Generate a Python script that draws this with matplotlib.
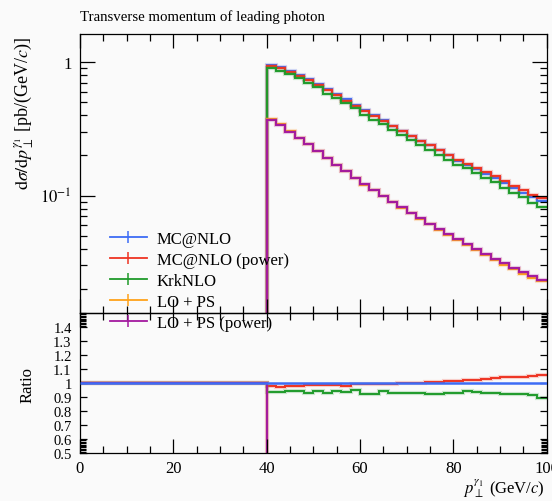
import numpy as np
import matplotlib
matplotlib.use("Agg")
import matplotlib.pyplot as plt
from matplotlib.lines import Line2D
from matplotlib.ticker import (FixedLocator, MultipleLocator, LogLocator,
                               FuncFormatter, NullFormatter)

plt.rcParams['font.family'] = ['Liberation Serif', 'DejaVu Serif']
plt.rcParams['mathtext.fontset'] = 'stix'

# Histogram binning (GeV/c): empty below 40, 2 GeV bins up to 100
pt_edges = np.arange(0, 102, 2)
pt_min_filled = 40

# Differential cross sections [pb/(GeV/c)] for the 30 filled bins 40-100
mcnlo = [0.960, 0.925, 0.866, 0.808, 0.746, 0.688, 0.627, 0.576, 0.527, 0.478,
         0.436, 0.401, 0.366, 0.334, 0.306, 0.281, 0.258, 0.238, 0.218, 0.200,
         0.183, 0.170, 0.157, 0.145, 0.1355, 0.124, 0.114, 0.105, 0.097, 0.0915]
mcnlo_power = [0.941, 0.899, 0.849, 0.793, 0.734, 0.678, 0.618, 0.569, 0.514, 0.473,
               0.432, 0.397, 0.363, 0.332, 0.305, 0.280, 0.2585, 0.239, 0.2197, 0.2024,
               0.1857, 0.1731, 0.1605, 0.1491, 0.1404, 0.1290, 0.1188, 0.1098, 0.1019, 0.0966]
krknlo = [0.900, 0.863, 0.814, 0.760, 0.695, 0.650, 0.582, 0.544, 0.495, 0.454,
          0.401, 0.3705, 0.344, 0.3093, 0.2837, 0.2610, 0.2389, 0.2187, 0.2008, 0.1862,
          0.1695, 0.1598, 0.1465, 0.1347, 0.1255, 0.1140, 0.1050, 0.0970, 0.0887, 0.0815]
lo_ps = [0.378, 0.346, 0.306, 0.272, 0.245, 0.217, 0.193, 0.171, 0.153, 0.135,
         0.121, 0.110, 0.099, 0.089, 0.0808, 0.0735, 0.0667, 0.0607, 0.0553, 0.0505,
         0.0462, 0.0425, 0.0389, 0.0356, 0.0327, 0.0302, 0.0279, 0.0259, 0.0242, 0.0227]
lo_ps_power = [0.369, 0.340, 0.302, 0.269, 0.2426, 0.215, 0.1914, 0.1706, 0.153, 0.1355,
               0.122, 0.111, 0.100, 0.090, 0.0817, 0.0745, 0.0676, 0.0616, 0.0562, 0.0516,
               0.0472, 0.0434, 0.0398, 0.0365, 0.0335, 0.031, 0.0286, 0.0266, 0.0249, 0.0234]

labels = ["MC@NLO", "MC@NLO (power)", "KrkNLO", "LO + PS", "LO + PS (power)"]
colors = ["#3d6cf5", "#ee3322", "#1f9a2a", "#ffa21a", "#a3199f"]
series = [mcnlo, mcnlo_power, krknlo, lo_ps, lo_ps_power]

bg = "#fafafa"
W, H = 552, 502
fig = plt.figure(figsize=(W / 100, H / 100), dpi=100, facecolor=bg)

L, R = 80 / W, 546.7 / W
ax = fig.add_axes([L, 1 - 314 / H, R - L, (314 - 35) / H])
axr = fig.add_axes([L, 1 - 454 / H, R - L, (454 - 314) / H])
for a in (ax, axr):
    a.set_facecolor("none")
    for s in a.spines.values():
        s.set_linewidth(0.9)

n_empty = int(np.sum(pt_edges[:-1] < pt_min_filled))
ref = np.concatenate([np.zeros(n_empty), np.asarray(mcnlo)])

# Upper panel: spectra
for vals, col in zip(series, colors):
    full = np.concatenate([np.zeros(n_empty), np.asarray(vals)])
    ax.stairs(full, pt_edges, baseline=None, color=col, lw=3.0, alpha=0.22)
    ax.stairs(full, pt_edges, baseline=None, color=col, lw=1.4)

ax.set_yscale("log")
ax.set_xlim(0, 100)
ax.set_ylim(0.01316, 1.63)

# Lower panel: ratio to MC@NLO (empty bins count as 1)
with np.errstate(divide="ignore", invalid="ignore"):
    for vals, col in list(zip(series, colors))[1:]:
        full = np.concatenate([np.zeros(n_empty), np.asarray(vals)])
        ratio = np.where(ref > 0, full / np.where(ref > 0, ref, 1), 1.0)
        axr.stairs(ratio, pt_edges, baseline=None, color=col, lw=3.0, alpha=0.22)
        axr.stairs(ratio, pt_edges, baseline=None, color=col, lw=1.4)
axr.stairs(np.ones(len(pt_edges) - 1), pt_edges, baseline=None,
           color=colors[0], lw=1.8, zorder=5)
axr.set_xlim(0, 100)
axr.set_ylim(0.5, 1.5)

# Ticks
tick_fs = 12
ax.xaxis.set_major_locator(MultipleLocator(20))
ax.xaxis.set_minor_locator(MultipleLocator(5))
axr.xaxis.set_major_locator(MultipleLocator(20))
axr.xaxis.set_minor_locator(MultipleLocator(5))
ax.yaxis.set_major_locator(LogLocator(base=10))
ax.yaxis.set_minor_locator(LogLocator(base=10, subs=np.arange(2, 10)))
ax.yaxis.set_minor_formatter(NullFormatter())


def log_label(v, pos):
    if abs(v - 1) < 1e-9:
        return "1"
    e = int(round(np.log10(v)))
    return r"$10^{%d}$" % e


ax.yaxis.set_major_formatter(FuncFormatter(log_label))

axr.yaxis.set_major_locator(FixedLocator(np.round(np.arange(0.5, 1.45, 0.1), 2)))
axr.yaxis.set_minor_locator(FixedLocator(
    list(np.round(np.arange(0.51, 0.6, 0.01), 2)) + list(np.round(np.arange(1.41, 1.5, 0.01), 2))))
axr.yaxis.set_major_formatter(FuncFormatter(lambda v, p: f"{v:g}"))

ax.tick_params(axis="x", which="both", direction="in", top=True, bottom=True,
               labelbottom=False, width=0.9)
ax.tick_params(axis="x", which="major", length=10)
ax.tick_params(axis="x", which="minor", length=5)
ax.tick_params(axis="y", which="both", direction="in", left=True, right=True,
               labelsize=tick_fs, width=0.9, pad=6)
ax.tick_params(axis="y", which="major", length=11)
ax.tick_params(axis="y", which="minor", length=5)

axr.tick_params(axis="x", which="both", direction="in", top=True, bottom=True,
                labelsize=tick_fs, width=0.9, pad=5)
axr.tick_params(axis="x", which="major", length=10)
axr.tick_params(axis="x", which="minor", length=5)
axr.tick_params(axis="y", which="both", direction="in", left=True, right=True,
                labelsize=10.5, width=0.9, pad=6)
axr.tick_params(axis="y", which="major", length=5)
axr.tick_params(axis="y", which="minor", length=4.5)

# Texts
fig.text(80 / W, 1 - 20.5 / H, "Transverse momentum of leading photon",
         fontsize=10.7, ha="left", va="baseline")
fig.text(24 / W, 1 - 37 / H,
         r"$\mathrm{d}\sigma/\mathrm{d}p_{\perp}^{\gamma_1}$ [pb/(GeV/$c$)]",
         rotation=90, ha="center", va="top", fontsize=13)
fig.text(28 / W, 1 - 385 / H, "Ratio", rotation=90, ha="center", va="center",
         fontsize=12)
fig.text(545 / W, 1 - 493 / H, r"$p_{\perp}^{\gamma_1}$ (GeV/$c$)",
         ha="right", va="baseline", fontsize=12)

# Legend
handles = [Line2D([], [], color=c, lw=1.3, marker="|", markersize=9,
                  markeredgewidth=1.1) for c in colors]
leg = fig.legend(handles, labels, loc="upper left",
                 bbox_to_anchor=(110 / W, 1 - 232 / H), frameon=False,
                 fontsize=12, handlelength=2.2, handletextpad=0.6,
                 labelspacing=0.3, borderpad=0, borderaxespad=0)
leg.set_zorder(10)

fig.savefig("out.png", dpi=100, facecolor=bg)
